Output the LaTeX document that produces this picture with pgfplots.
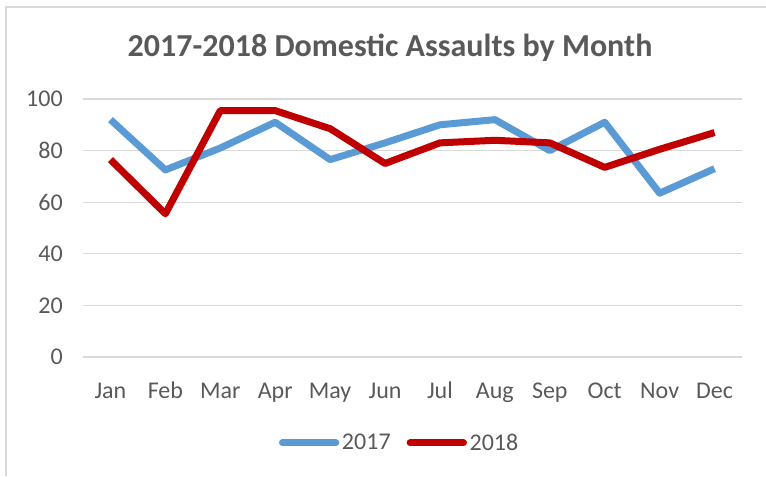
\documentclass[border=0pt]{standalone}
\usepackage{pgfplots}
\pgfplotsset{compat=1.18}
\usepackage{fontspec}
\setmainfont{Carlito}
\definecolor{txtgray}{HTML}{595959}
\definecolor{gridgray}{HTML}{D9D9D9}
\definecolor{blue17}{HTML}{5B9BD5}
\definecolor{red18}{HTML}{C00000}

\begin{document}
\begin{tikzpicture}
\useasboundingbox (0pt,0pt) rectangle (574.5pt,357pt);
% chart frame (only top and left edges visible)
\draw[gridgray, line width=1.1pt] (4.5pt,0pt) -- (4.5pt,351.75pt) -- (574.5pt,351.75pt);
% title
\node[anchor=base, text=txtgray, font=\fontsize{24}{29}\selectfont\bfseries]
  at (292.5pt,314.25pt) {2017-2018 Domestic Assaults by Month};
\begin{axis}[
    at={(62.25pt,89.25pt)}, anchor=south west,
    scale only axis,
    width=494.25pt, height=193.5pt,
    xmin=-0.5, xmax=11.5,
    ymin=0, ymax=100,
    axis line style={draw=none},
    xtick={0,...,11},
    xticklabels={Jan,Feb,Mar,Apr,May,Jun,Jul,Aug,Sep,Oct,Nov,Dec},
    ytick={0,20,...,100},
    major tick length=0pt,
    ymajorgrids,
    grid style={gridgray, line width=1pt},
    tick label style={font=\fontsize{18}{21}\selectfont, text=txtgray},
    /pgf/number format/assume math mode=true,
    yticklabel style={anchor=east, inner sep=0pt, xshift=-15pt},
    xticklabel style={anchor=base, inner sep=0pt, yshift=-30.75pt},
    legend style={at={(0.481,-0.333)}, anchor=center, draw=none,
        fill=none, legend columns=2,
        font=\fontsize{18}{21}\selectfont, text=txtgray,
        /tikz/every even column/.append style={column sep=10pt}},
    legend image code/.code={\draw[#1, line cap=round] (0pt,0pt) -- (40pt,0pt);},
    every axis plot/.append style={line width=5.25pt, line join=round},
]
\addplot[blue17] coordinates {
    (0,92) (1,72.5) (2,81) (3,91) (4,76.5) (5,83)
    (6,90) (7,92) (8,80) (9,91) (10,63.5) (11,73)
};
\addplot[red18] coordinates {
    (0,76.5) (1,55.5) (2,95.5) (3,95.5) (4,88.5) (5,75)
    (6,83) (7,84) (8,83) (9,73.5) (10,80.5) (11,87)
};
\legend{2017,2018}
\end{axis}
\end{tikzpicture}
\end{document}
